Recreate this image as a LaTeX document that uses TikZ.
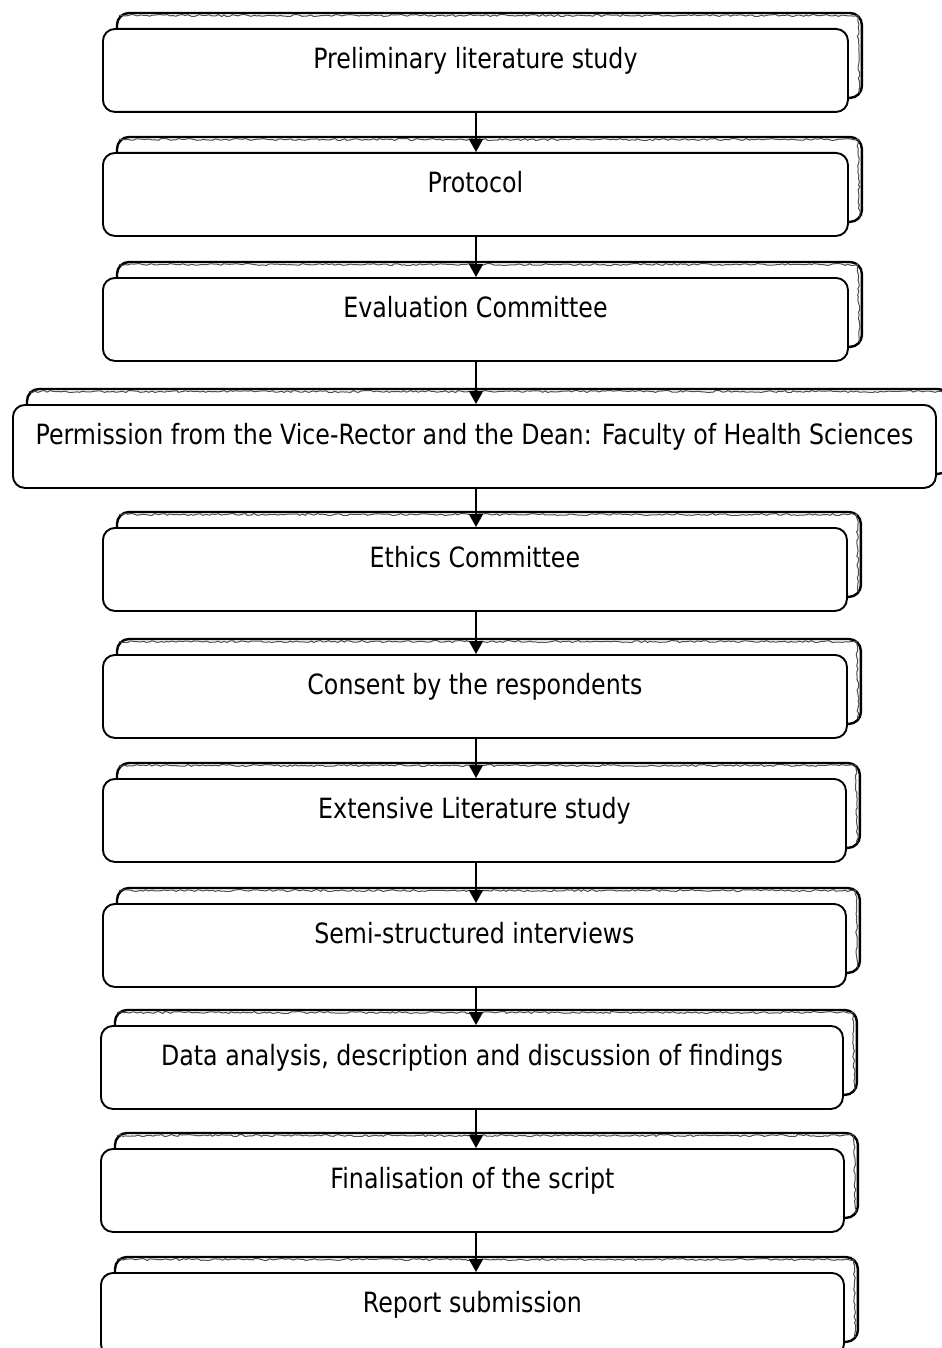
\documentclass[tikz,border=0pt]{standalone}
\usepackage{fontspec}
\setmainfont{DejaVu Sans}[FakeStretch=0.85]
\usetikzlibrary{arrows.meta,backgrounds,decorations.pathmorphing}
\begin{document}
\begin{tikzpicture}[x=1bp,y=-1bp,
  stage/.style={draw=black, line width=1.9bp, fill=white, rounded corners=12bp,
    anchor=north west, inner sep=0pt, text height=40bp, text depth=43bp,
    font=\fontsize{28}{32}\selectfont},
  backbox/.style={draw=black, line width=2.4bp, rounded corners=12bp},
  backnoise/.style={draw=black!70, line width=1bp,
    decorate, decoration={random steps, segment length=3bp, amplitude=1bp}},
  flow/.style={line width=1.6bp, -{Triangle[length=13bp,width=14bp]}}]
\pgfmathsetseed{7}
\useasboundingbox (0,0) rectangle (941,1348);
\clip (0,0) rectangle (941,1348);
\node[stage, minimum width=745bp] (s1) at (102,28) {Preliminary literature study};
\node[stage, minimum width=745bp] (s2) at (102,152) {Protocol};
\node[stage, minimum width=745bp] (s3) at (102,277) {Evaluation Committee};
\node[stage, minimum width=923bp] (s4) at (12,404) {Permission from the Vice-Rector and the Dean: Faculty of Health Sciences};
\node[stage, minimum width=744bp] (s5) at (102,527) {Ethics Committee};
\node[stage, minimum width=744bp] (s6) at (102,654) {Consent by the respondents};
\node[stage, minimum width=743bp] (s7) at (102,778) {Extensive Literature study};
\node[stage, minimum width=743bp] (s8) at (102,903) {Semi-structured interviews};
\node[stage, minimum width=742bp] (s9) at (100,1025) {Data analysis, description and discussion of findings};
\node[stage, minimum width=743bp] (s10) at (100,1148) {Finalisation of the script};
\node[stage, minimum width=743bp] (s11) at (100,1272) {Report submission};
\begin{scope}[on background layer]
\fill[white] (0,0) rectangle (941,1348);
\foreach \n in {s1,s2,s3,s4,s5,s6,s7,s8,s9,s10,s11}{
  \draw[backbox] ([shift={(15,-15)}]\n.north west) rectangle ([shift={(13,-15)}]\n.south east);
  \draw[backnoise] ([shift={(17,-12.5)}]\n.north west) -- ([shift={(9,-12.5)}]\n.north east)
    -- ([shift={(10.5,-20)}]\n.south east);
}
\end{scope}
\foreach \a/\b in {s1/s2,s2/s3,s3/s4,s4/s5,s5/s6,s6/s7,s7/s8,s8/s9,s9/s10,s10/s11}{
  \draw[flow] (\a.south -| 476,0) -- (\b.north -| 476,0);
}
\end{tikzpicture}
\end{document}
